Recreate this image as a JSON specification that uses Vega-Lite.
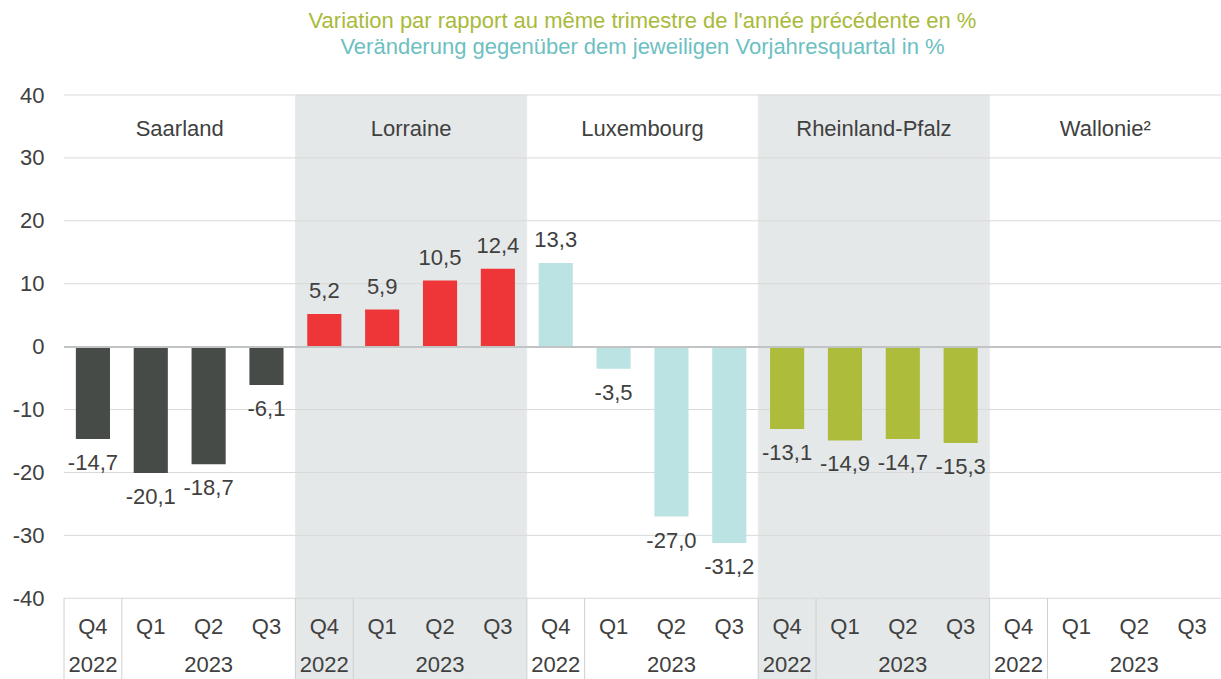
{
  "$schema": "https://vega.github.io/schema/vega-lite/v6.json",
  "width": 1157,
  "height": 584,
  "autosize": "none",
  "padding": {"left": 64, "top": 95, "right": 0, "bottom": 0},
  "background": "white",
  "title": {
    "text": "Variation par rapport au même trimestre de l'année précédente en %",
    "subtitle": "Veränderung gegenüber dem jeweiligen Vorjahresquartal in %",
    "color": "#A9BA3A",
    "subtitleColor": "#6DBFC2",
    "fontSize": 22,
    "subtitleFontSize": 22,
    "font": "Liberation Sans",
    "subtitleFont": "Liberation Sans",
    "fontWeight": "normal",
    "anchor": "middle",
    "subtitlePadding": 4,
    "offset": 25
  },
  "config": {
    "view": {"stroke": null},
    "locale": {"number": {"decimal": ",", "thousands": ".", "grouping": [3], "currency": ["", " €"], "minus": "-"}},
    "text": {"font": "Liberation Sans", "fontSize": 22, "color": "#404040"}
  },
  "data": {
    "values": [
      {"key": "Saarland Q4 2022", "region": "Saarland", "q": "Q4", "year": "2022", "value": -14.7},
      {"key": "Saarland Q1 2023", "region": "Saarland", "q": "Q1", "year": "2023", "value": -20.1},
      {"key": "Saarland Q2 2023", "region": "Saarland", "q": "Q2", "year": "2023", "value": -18.7},
      {"key": "Saarland Q3 2023", "region": "Saarland", "q": "Q3", "year": "2023", "value": -6.1},
      {"key": "Lorraine Q4 2022", "region": "Lorraine", "q": "Q4", "year": "2022", "value": 5.2},
      {"key": "Lorraine Q1 2023", "region": "Lorraine", "q": "Q1", "year": "2023", "value": 5.9},
      {"key": "Lorraine Q2 2023", "region": "Lorraine", "q": "Q2", "year": "2023", "value": 10.5},
      {"key": "Lorraine Q3 2023", "region": "Lorraine", "q": "Q3", "year": "2023", "value": 12.4},
      {"key": "Luxembourg Q4 2022", "region": "Luxembourg", "q": "Q4", "year": "2022", "value": 13.3},
      {"key": "Luxembourg Q1 2023", "region": "Luxembourg", "q": "Q1", "year": "2023", "value": -3.5},
      {"key": "Luxembourg Q2 2023", "region": "Luxembourg", "q": "Q2", "year": "2023", "value": -27.0},
      {"key": "Luxembourg Q3 2023", "region": "Luxembourg", "q": "Q3", "year": "2023", "value": -31.2},
      {"key": "Rheinland-Pfalz Q4 2022", "region": "Rheinland-Pfalz", "q": "Q4", "year": "2022", "value": -13.1},
      {"key": "Rheinland-Pfalz Q1 2023", "region": "Rheinland-Pfalz", "q": "Q1", "year": "2023", "value": -14.9},
      {"key": "Rheinland-Pfalz Q2 2023", "region": "Rheinland-Pfalz", "q": "Q2", "year": "2023", "value": -14.7},
      {"key": "Rheinland-Pfalz Q3 2023", "region": "Rheinland-Pfalz", "q": "Q3", "year": "2023", "value": -15.3},
      {"key": "Wallonie Q4 2022", "region": "Wallonie²", "q": "Q4", "year": "2022", "value": null},
      {"key": "Wallonie Q1 2023", "region": "Wallonie²", "q": "Q1", "year": "2023", "value": null},
      {"key": "Wallonie Q2 2023", "region": "Wallonie²", "q": "Q2", "year": "2023", "value": null},
      {"key": "Wallonie Q3 2023", "region": "Wallonie²", "q": "Q3", "year": "2023", "value": null}
    ]
  },
  "layer": [
    {
      "transform": [{"filter": "datum.region === 'Lorraine' || datum.region === 'Rheinland-Pfalz'"}],
      "mark": {"type": "rect", "color": "#E4E8E8", "stroke": "#E4E8E8", "strokeWidth": 0.6},
      "encoding": {
        "x": {"field": "key", "type": "nominal", "sort": null, "axis": null,
          "scale": {"type": "band", "paddingInner": 0, "paddingOuter": 0,
            "domain": ["Saarland Q4 2022", "Saarland Q1 2023", "Saarland Q2 2023", "Saarland Q3 2023",
              "Lorraine Q4 2022", "Lorraine Q1 2023", "Lorraine Q2 2023", "Lorraine Q3 2023",
              "Luxembourg Q4 2022", "Luxembourg Q1 2023", "Luxembourg Q2 2023", "Luxembourg Q3 2023",
              "Rheinland-Pfalz Q4 2022", "Rheinland-Pfalz Q1 2023", "Rheinland-Pfalz Q2 2023", "Rheinland-Pfalz Q3 2023",
              "Wallonie Q4 2022", "Wallonie Q1 2023", "Wallonie Q2 2023", "Wallonie Q3 2023"]}},
        "y": {"datum": 40, "type": "quantitative", "scale": {"domain": [-52.83, 40], "nice": false, "zero": false},
          "axis": {"values": [-40, -30, -20, -10, 0, 10, 20, 30, 40], "grid": false, "domain": false, "ticks": false, "title": null,
            "labelFont": "Liberation Sans", "labelFontSize": 22, "labelColor": "#404040", "labelPadding": 20}},
        "y2": {"datum": -52.83}
      }
    },
    {
      "data": {"values": [{"g": -40}, {"g": -30}, {"g": -20}, {"g": -10}, {"g": 10}, {"g": 20}, {"g": 30}, {"g": 40}]},
      "mark": {"type": "rule", "color": "#D9D9D9", "strokeWidth": 1},
      "encoding": {"y": {"field": "g", "type": "quantitative", "title": null}}
    },
    {
      "transform": [{"filter": "datum.q === 'Q4' || datum.q === 'Q1'"}],
      "mark": {"type": "rule", "color": "#D0D0D0", "strokeWidth": 1},
      "encoding": {
        "x": {"field": "key", "type": "nominal", "sort": null, "bandPosition": 0},
        "y": {"datum": -40, "type": "quantitative"},
        "y2": {"datum": -52.83}
      }
    },
    {
      "transform": [{"filter": "isValid(datum.value)"}],
      "mark": {"type": "bar", "width": {"band": 0.59}},
      "encoding": {
        "x": {"field": "key", "type": "nominal", "sort": null},
        "y": {"field": "value", "type": "quantitative", "title": null},
        "y2": {"datum": 0},
        "color": {"field": "region", "type": "nominal", "legend": null,
          "scale": {"domain": ["Saarland", "Lorraine", "Luxembourg", "Rheinland-Pfalz", "Wallonie²"],
            "range": ["#464B48", "#EE3638", "#BCE3E3", "#AEBC3B", "#888888"]}}
      }
    },
    {
      "mark": {"type": "rule", "color": "#C0C4C4", "strokeWidth": 1.5},
      "encoding": {"y": {"datum": 0, "type": "quantitative"}}
    },
    {
      "transform": [{"filter": "isValid(datum.value) && datum.value >= 0"}],
      "mark": {"type": "text", "baseline": "middle", "dy": -23},
      "encoding": {
        "x": {"field": "key", "type": "nominal", "sort": null},
        "y": {"field": "value", "type": "quantitative"},
        "text": {"field": "value", "type": "quantitative", "format": ".1f"}
      }
    },
    {
      "transform": [{"filter": "isValid(datum.value) && datum.value < 0"}],
      "mark": {"type": "text", "baseline": "middle", "dy": 24},
      "encoding": {
        "x": {"field": "key", "type": "nominal", "sort": null},
        "y": {"field": "value", "type": "quantitative"},
        "text": {"field": "value", "type": "quantitative", "format": ".1f"}
      }
    },
    {
      "transform": [{"filter": "datum.q === 'Q2'"}],
      "mark": {"type": "text", "baseline": "middle"},
      "encoding": {
        "x": {"field": "key", "type": "nominal", "sort": null, "bandPosition": 0},
        "y": {"datum": 34.6, "type": "quantitative"},
        "text": {"field": "region"}
      }
    },
    {
      "mark": {"type": "text", "baseline": "middle"},
      "encoding": {
        "x": {"field": "key", "type": "nominal", "sort": null},
        "y": {"datum": -44.6, "type": "quantitative"},
        "text": {"field": "q"}
      }
    },
    {
      "transform": [{"filter": "datum.q === 'Q4' || datum.q === 'Q2'"}],
      "mark": {"type": "text", "baseline": "middle"},
      "encoding": {
        "x": {"field": "key", "type": "nominal", "sort": null},
        "y": {"datum": -50.6, "type": "quantitative"},
        "text": {"field": "year"}
      }
    }
  ]
}
